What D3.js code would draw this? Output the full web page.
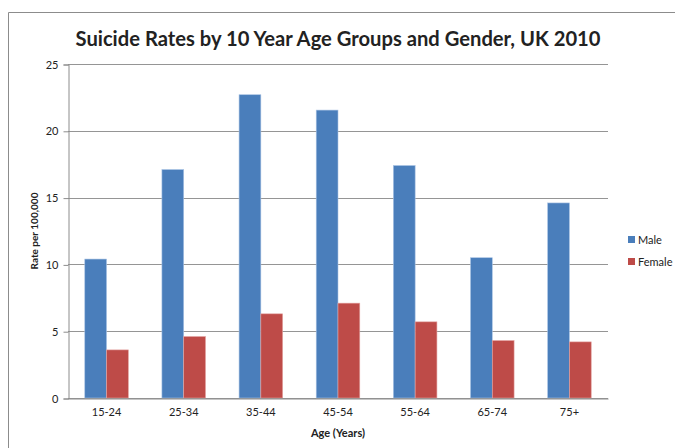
<!DOCTYPE html>
<html>
<head>
<meta charset="utf-8">
<title>Suicide Rates UK 2010</title>
<style>
	body,html { margin:0px; background:#fff; }
	text { font-family:Lato, 'Open Sans', 'Liberation Sans', sans-serif; fill:#222; }
</style>
<script src="https://cdn.jsdelivr.net/npm/d3@7/dist/d3.min.js"></script>
</head>
<body>
<svg width="675" height="448"></svg>
<script>
var ageGroups = ['15-24','25-34','35-44','45-54','55-64','65-74','75+'];
var maleRates = [10.4, 17.1, 22.7, 21.55, 17.4, 10.5, 14.6];
var femaleRates = [3.6, 4.6, 6.3, 7.1, 5.7, 4.3, 4.2];
var seriesNames = ['Male','Female'];
var seriesColors = ['#4a7ebb','#be4b48'];
var yTicks = [0,5,10,15,20,25];

var svg = d3.select('svg');
var plotLeft = 68, plotRight = 608, plotTop = 64, plotBottom = 398;

// outer chart border
svg.append('path')
	.attr('d','M8.5,448 L8.5,12.5 L675,12.5')
	.attr('fill','none').attr('stroke','#8c8c8c').attr('stroke-width',1);

var x = d3.scaleBand().domain(ageGroups).range([plotLeft,plotRight]).paddingInner(0).paddingOuter(0);
var x1 = d3.scaleBand().domain(seriesNames).range([0,x.bandwidth()]).paddingInner(0).paddingOuter(0.77);
var y = d3.scaleLinear().domain([0,25]).range([plotBottom,plotTop]);

// gridlines
svg.append('g').selectAll('line').data(yTicks).enter().append('line')
	.attr('x1',plotLeft).attr('x2',plotRight)
	.attr('y1',function(d){ return Math.round(y(d))+0.5; })
	.attr('y2',function(d){ return Math.round(y(d))+0.5; })
	.attr('stroke','#959595').attr('stroke-width',1);

// y axis
var yAxis = svg.append('g').attr('transform','translate('+(plotLeft+0.5)+',0.5)')
	.call(d3.axisLeft(y).tickValues(yTicks).tickSize(5).tickPadding(5));
yAxis.select('.domain').attr('stroke','#8c8c8c');
yAxis.selectAll('.tick line').attr('stroke','#8c8c8c');
yAxis.selectAll('.tick text').attr('font-size','11px').attr('fill','#333');

// bars
var rows = ageGroups.map(function(g,i){ return {group:g, vals:[maleRates[i],femaleRates[i]]}; });
var groups = svg.append('g').selectAll('g').data(rows).enter().append('g')
	.attr('transform',function(d){ return 'translate('+x(d.group)+',0)'; });
groups.selectAll('rect').data(function(d){ return d.vals.map(function(v,j){ return {name:seriesNames[j], v:v, j:j}; }); })
	.enter().append('rect')
	.attr('x',function(d){ return x1(d.name); })
	.attr('width',x1.bandwidth())
	.attr('y',function(d){ return y(d.v); })
	.attr('height',function(d){ return plotBottom - y(d.v); })
	.attr('fill',function(d){ return seriesColors[d.j]; })
	.attr('stroke',function(d){ return d.j == 0 ? '#a9c3e4' : '#e3a3a1'; })
	.attr('stroke-width',0.6);

// x axis
var xAxis = svg.append('g').attr('transform','translate(0,'+(plotBottom+0.5)+')')
	.call(d3.axisBottom(x).tickSize(0).tickPadding(10));
xAxis.select('.domain').attr('stroke','#8c8c8c');
xAxis.selectAll('.tick text').attr('font-size','11px').attr('fill','#333');

// titles
svg.append('text').attr('x',338).attr('y',46).attr('text-anchor','middle')
	.attr('font-size','20px').attr('font-weight','bold').attr('fill','#000')
	.attr('textLength',525).attr('lengthAdjust','spacingAndGlyphs')
	.text('Suicide Rates by 10 Year Age Groups and Gender, UK 2010');

svg.append('text').attr('x',338).attr('y',437).attr('text-anchor','middle')
	.attr('font-size','11px').attr('font-weight','bold')
	.text('Age (Years)');

svg.append('text').attr('transform','translate(38,231) rotate(-90)').attr('text-anchor','middle')
	.attr('font-size','10px').attr('font-weight','bold')
	.text('Rate per 100,000');

// legend
var legend = svg.append('g').selectAll('g').data(seriesNames).enter().append('g')
	.attr('transform',function(d,i){ return 'translate(628,'+(236+i*22)+')'; });
legend.append('rect').attr('width',7).attr('height',7)
	.attr('fill',function(d,i){ return seriesColors[i]; });
legend.append('text').attr('x',10).attr('y',7.5).attr('font-size','11px').attr('fill','#333')
	.text(function(d){ return d; });
</script>
</body>
</html>
